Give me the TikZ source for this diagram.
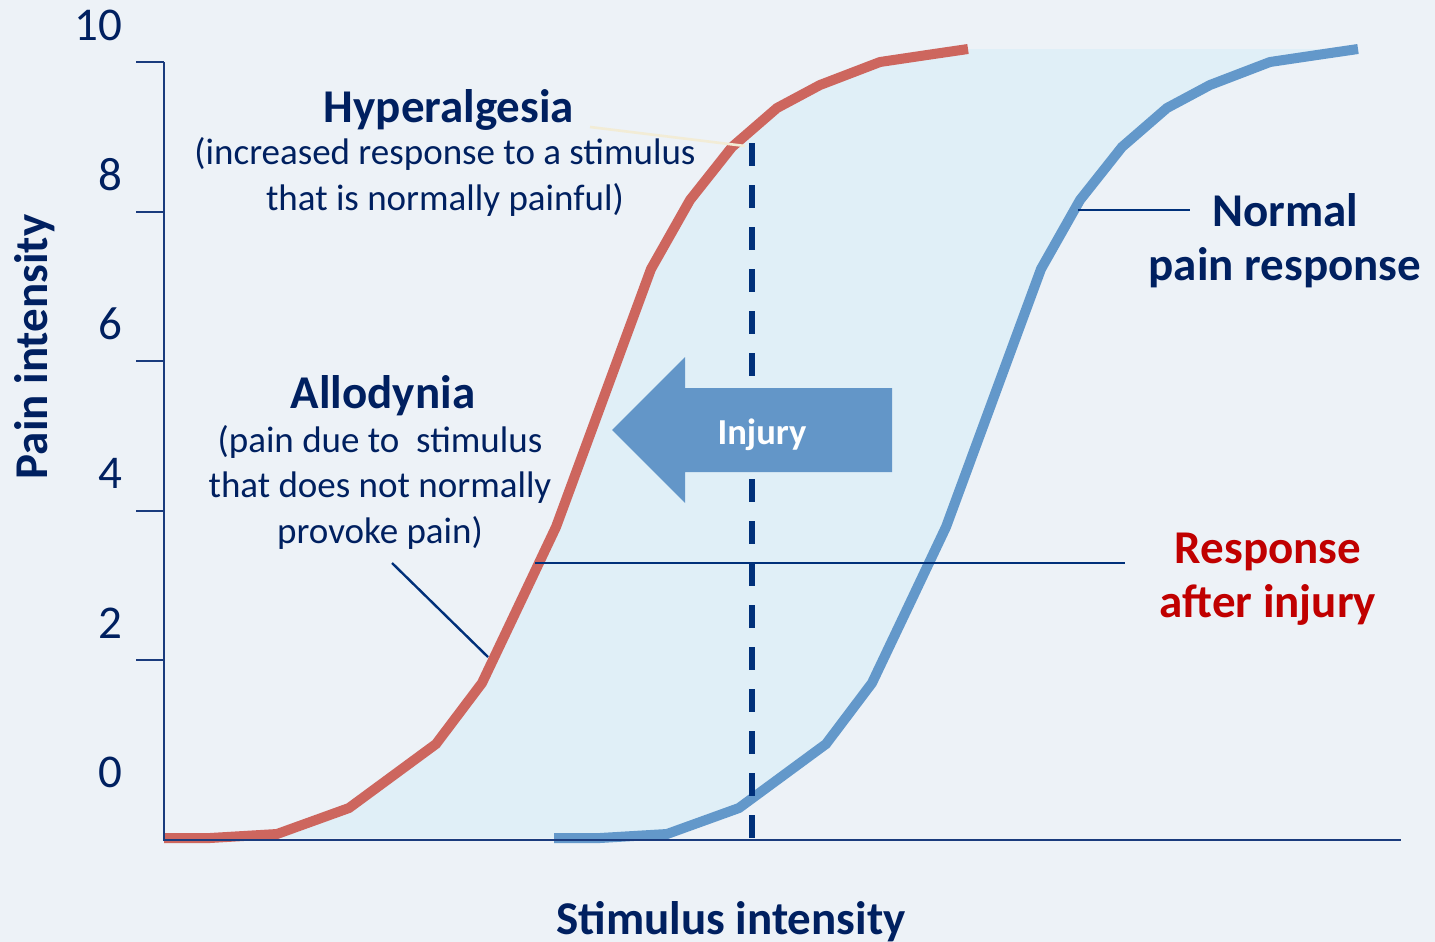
\documentclass[tikz,border=0pt]{standalone}
\usepackage{fontspec}
\setmainfont{Carlito}
\definecolor{bgc}{HTML}{EDF2F7}
\definecolor{bandc}{HTML}{E0EFF7}
\definecolor{navy}{HTML}{002060}
\definecolor{axisc}{HTML}{1A3B7D}
\definecolor{linec}{HTML}{00307A}
\definecolor{hurt}{HTML}{CD665E}
\definecolor{calm}{HTML}{6398CA}
\definecolor{arrowc}{HTML}{6396C8}
\definecolor{alert}{HTML}{C00000}
\definecolor{cream}{HTML}{F2ECD6}
\begin{document}
\begin{tikzpicture}[x=0.5pt,y=-0.5pt,
  every node/.style={inner sep=0pt,outer sep=0pt,text=navy},
  big/.style={font=\fontsize{23.5}{27}\selectfont\bfseries,align=center},
  body/.style={font=\fontsize{18.5}{22.6}\selectfont,align=center},
  ticklabel/.style={font=\fontsize{23.5}{27}\selectfont,anchor=base east},
  axisline/.style={draw=axisc,line width=1pt},
  curve/.style={line width=5pt,line join=round,line cap=butt},
  leader/.style={draw=linec,line width=1.3pt},
  guide/.style={draw=linec,line width=3pt,dash pattern=on 11.5pt off 9.5pt}]

% canvas
\fill[bgc] (0,0) rectangle (1435,942);
\useasboundingbox (0,0) rectangle (1435,942);

% sample points of the response curve after injury; the normal one is shifted right
\foreach \px/\py [count=\i] in {164/838,210/838,277/834,349/808,436/744,482/683,
    520/603,556/527,651/269,690/200,732/147,777/108,820/85,880/62,927/55,968/49}{
  \coordinate (r\i) at (\px,\py);
  \coordinate (b\i) at (\px+390,\py);
}

% band between the two curves
\fill[bandc] (r1) \foreach \i in {2,...,16}{ -- (r\i)}
  \foreach \i in {16,...,1}{ -- (b\i)} -- cycle;

% curves
\draw[curve,hurt] (r1) \foreach \i in {2,...,16}{ -- (r\i)};
\draw[curve,calm] (b1) \foreach \i in {2,...,16}{ -- (b\i)};

% axes
\coordinate (ytop) at (164,62);
\coordinate (origin) at (164,840);
\coordinate (xend) at (1401,840);
\draw[axisline] (ytop) -- (origin) -- (xend);
\foreach \ty in {62,212,361,511,660}
  \draw[axisline] (136,\ty) -- (164,\ty);

\node[ticklabel] (t10) at (122,40)  {10};
\node[ticklabel] (t8)  at (122,190) {8};
\node[ticklabel] (t6)  at (122,339) {6};
\node[ticklabel] (t4)  at (122,488) {4};
\node[ticklabel] (t2)  at (122,638) {2};
\node[ticklabel] (t0)  at (122,787) {0};

\node[big,rotate=90,anchor=base] (ylab) at (47,347) {Pain intensity};
\node[big,anchor=base] (xlab) at (731,934) {Stimulus intensity};

% stimulus level and response level
\coordinate (dtop) at (752,143);
\coordinate (dbot) at (752,840);
\draw[guide] (dtop) -- (dbot);
\coordinate (hl) at (535,563);
\coordinate (hr) at (1125,563);
\draw[leader] (hl) -- (hr);

% leaders to the labels
\coordinate (al1) at (392,563);
\coordinate (al2) at (488,657);
\draw[leader,line width=1.2pt] (al1) -- (al2);
\coordinate (nl1) at (1078,210);
\coordinate (nl2) at (1190,210);
\draw[leader] (nl1) -- (nl2);
\coordinate (hy1) at (590,127);
\coordinate (hy2) at (745,146);
\draw[cream,line width=1.3pt] (hy1) -- (hy2);

% injury arrow
\fill[arrowc] (612,430) -- (685,357) -- (685,388) -- (892,388) -- (892,472)
  -- (685,472) -- (685,503) -- cycle;
\node[font=\fontsize{18.3}{22}\selectfont\bfseries,text=white,anchor=base] (inj) at (762,444) {Injury};

% labels (multi-line nodes sit on the baseline of their last line)
\node[big,anchor=base] (hyp) at (449,122) {Hyperalgesia};
\node[body,anchor=base] (hypd) at (445,210) {(increased response to a stimulus\\that is normally painful)};
\node[big,anchor=base] (allo) at (383,408) {Allodynia};
\node[body,anchor=base] (allod) at (380,543) {(pain due to\ \ stimulus\\that does not normally\\provoke pain)};
\node[big,anchor=base] (norm) at (1285,280) {Normal\\pain response};
\node[big,anchor=base,text=alert] (resp) at (1268,617) {Response\\after injury};
\end{tikzpicture}
\end{document}
